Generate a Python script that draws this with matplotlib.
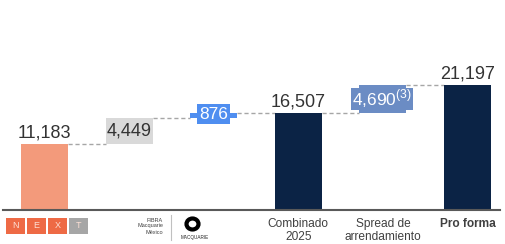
import matplotlib.pyplot as plt
from matplotlib.patches import Rectangle, Ellipse

plt.rcParams["font.family"] = ["Liberation Sans", "DejaVu Sans"]
plt.rcParams["mathtext.fontset"] = "custom"
plt.rcParams["mathtext.rm"] = "Liberation Sans"

# waterfall data
categories = ["", "", "", "Combinado\n2025", "Spread de\narrendamiento", "Pro forma"]
values = [11183, 4449, 876, 16507, 4690, 21197]
kinds = ["total", "step", "step", "total", "step", "total"]
labels = ["11,183", "4,449", "876", "16,507", "4,690", "21,197"]
colors = ["#f39a7b", "#d9d9d9", "#4f8ef0", "#0b2345", "#6b8cc4", "#0b2345"]

W, H = 505, 244
fig = plt.figure(figsize=(W / 100, H / 100), dpi=100)
ax = fig.add_axes([0, 0, 1, 1])
ax.axis("off")

upx = 169.5          # data units per pixel (vertical)
base_px = 210        # baseline, pixels from top
step_px = 84.6
x0_px = 44.5
ax.set_xlim(-x0_px / step_px, (W - x0_px) / step_px)
ax.set_ylim(-(H - base_px) * upx, base_px * upx)

width = 47 / step_px
dark = "#333333"

bottoms, tops = [], []
level = 0
for v, k in zip(values, kinds):
    if k == "total":
        b, t = 0, v
    else:
        b, t = level, level + v
    level = t
    bottoms.append(b)
    tops.append(t)

for i, (b, t, c) in enumerate(zip(bottoms, tops, colors)):
    ax.bar(i, t - b, bottom=b, width=width, color=c, zorder=2)

# connectors
for i in range(len(values) - 1):
    ax.plot([i + width / 2, i + 1 - width / 2], [tops[i], tops[i]],
            color="#a6a6a6", lw=1, ls=(0, (3, 2)), zorder=1)

# labels above totals
for i, k in enumerate(kinds):
    if k == "total":
        ax.annotate(labels[i], (i, tops[i]), xytext=(0, 4.5), textcoords="offset points",
                    ha="center", va="baseline", fontsize=13, color=dark)

ax.text(1, (bottoms[1] + tops[1]) / 2, labels[1], ha="center", va="center",
        fontsize=13, color=dark, zorder=3)


def label_box(i, dx_px, dy_px, w_px, h_px, text, color):
    xc = i + dx_px / step_px
    yc = (bottoms[i] + tops[i]) / 2 + dy_px * upx
    ax.add_patch(Rectangle((xc - w_px / 2 / step_px, yc - h_px / 2 * upx),
                           w_px / step_px, h_px * upx, fc=color, ec="none", zorder=3))
    ax.text(xc, yc, text, ha="center", va="center", fontsize=12.5,
            color="white", zorder=4)


label_box(2, 0, 1, 33, 20, labels[2], colors[2])
label_box(4, -1.3, 0, 62, 22, labels[4] + r"$^{\mathrm{(3)}}$", colors[4])

# baseline
ax.plot([-(x0_px - 3) / step_px, (500 - x0_px) / step_px], [0, 0],
        color="#595959", lw=1.5, zorder=3)

# category labels
for i, cat in enumerate(categories):
    if cat:
        ax.text(i, -8 * upx, cat, ha="center", va="top", fontsize=8.6,
                color="#404040", linespacing=1.1,
                fontweight="bold" if cat == "Pro forma" else "normal")


def fx(x):
    return x / W


def fy(y):
    return 1 - y / H


# NEXT logo
for j, (letter, c) in enumerate(zip("NEXT", ["#ee6a45", "#ee6a45", "#ee6a45", "#a6a6a6"])):
    x = 6 + j * 21
    fig.patches.append(Rectangle((fx(x), fy(234)), 19 / W, 16 / H,
                                 transform=fig.transFigure, fc=c, ec="none"))
    fig.text(fx(x + 9.5), fy(226), letter, ha="center", va="center",
             fontsize=6.5, color="#fde0d5")

# FIBRA Macquarie Mexico logo
for y, s in zip([220, 226, 232], ["FIBRA", "Macquarie", "México"]):
    fig.text(fx(163), fy(y), s, ha="right", va="center", fontsize=4, color="#404040")
fig.lines.append(plt.Line2D([fx(171), fx(171)], [fy(215), fy(240)],
                            transform=fig.transFigure, color="#c0c0c0", lw=0.8))
fig.patches.append(Ellipse((fx(192.5), fy(224)), 12 / W, 11 / H,
                           transform=fig.transFigure, fc="none", ec="black", lw=3))
fig.text(fx(195), fy(238), "MACQUARIE", ha="center", va="center",
         fontsize=3.3, color="#222222")

fig.savefig("out.png", dpi=100)
